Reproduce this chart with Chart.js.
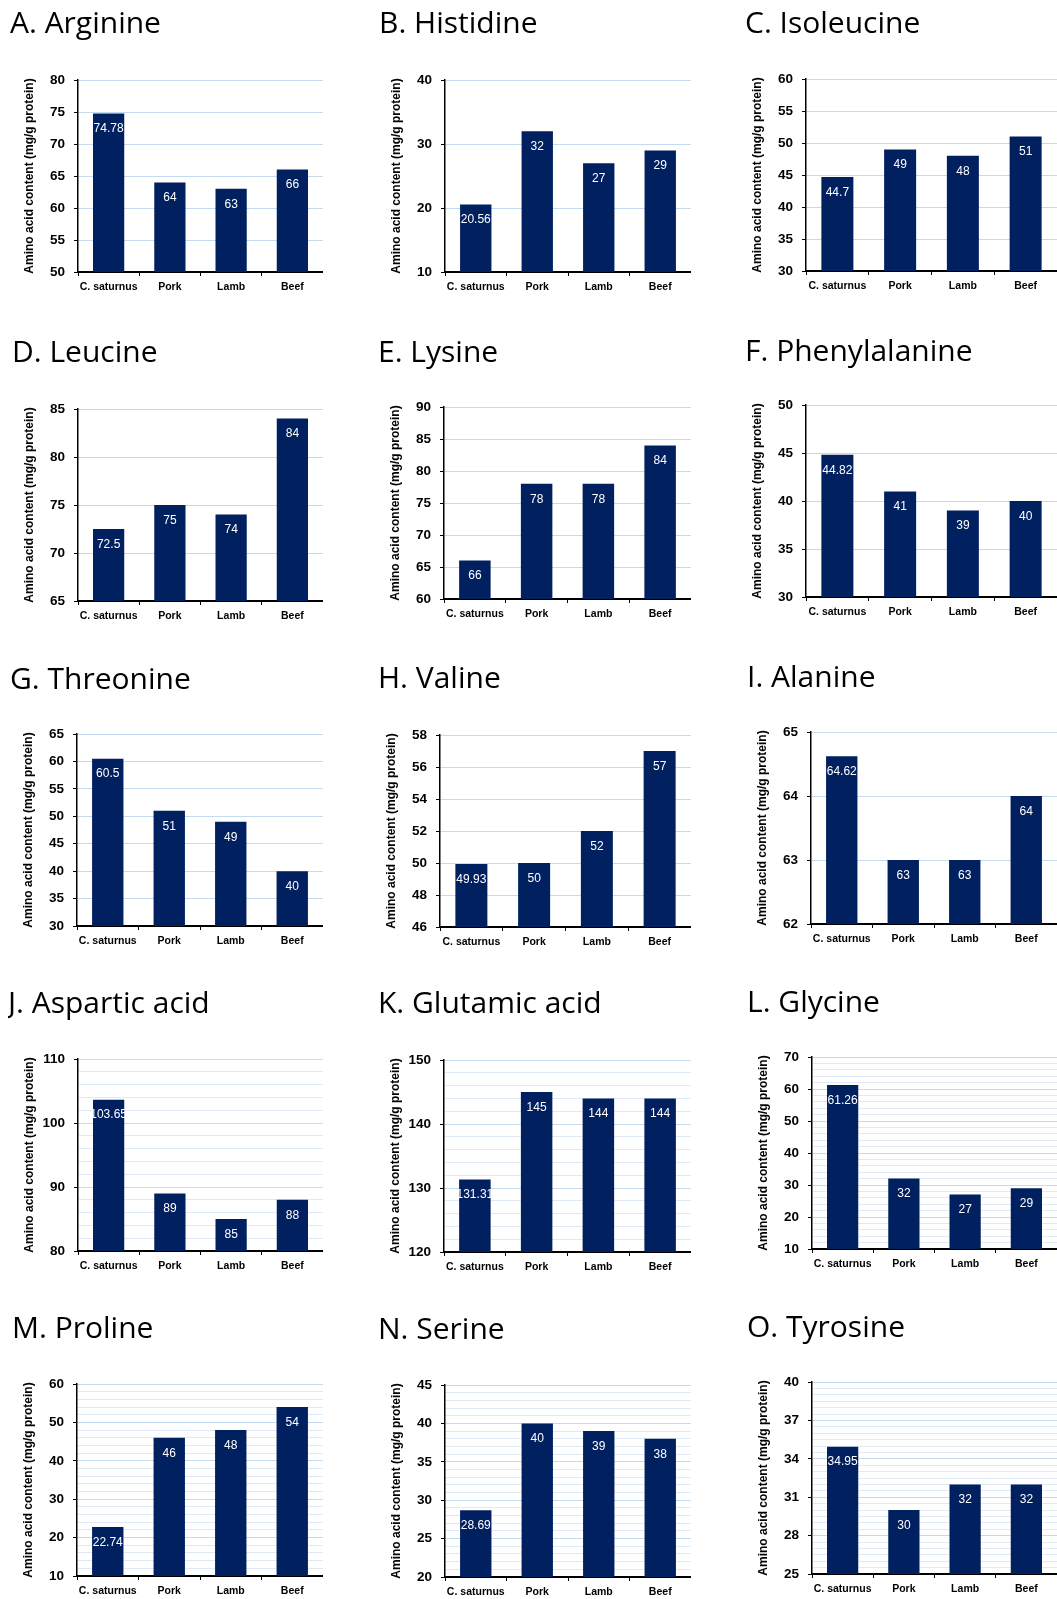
<!DOCTYPE html>
<html><head><meta charset="utf-8">
<script src="https://cdn.jsdelivr.net/npm/chart.js@4.4.1/dist/chart.umd.min.js"></script>
<style>
html,body{margin:0;padding:0;background:#fff;}
body{width:1057px;height:1599px;position:relative;overflow:hidden;}
canvas{position:absolute;}
</style></head><body>
<script>
// ---------- DATA ----------
const categories = ['C. saturnus', 'Pork', 'Lamb', 'Beef'];
const panelTitles = ['A. Arginine','B. Histidine','C. Isoleucine','D. Leucine','E. Lysine','F. Phenylalanine',
  'G. Threonine','H. Valine','I. Alanine','J. Aspartic acid','K. Glutamic acid','L. Glycine',
  'M. Proline','N. Serine','O. Tyrosine'];
const yAxisTitle = 'Amino acid content (mg/g protein)';

const arginine      = [74.78, 64, 63, 66];
const histidine     = [20.56, 32, 27, 29];
const isoleucine    = [44.7, 49, 48, 51];
const leucine       = [72.5, 75, 74, 84];
const lysine        = [66, 78, 78, 84];
const phenylalanine = [44.82, 41, 39, 40];
const threonine     = [60.5, 51, 49, 40];
const valine        = [49.93, 50, 52, 57];
const alanine       = [64.62, 63, 63, 64];
const asparticAcid  = [103.65, 89, 85, 88];
const glutamicAcid  = [131.31, 145, 144, 144];
const glycine       = [61.26, 32, 27, 29];
const proline       = [22.74, 46, 48, 54];
const serine        = [28.69, 40, 39, 38];
const tyrosine      = [34.95, 30, 32, 32];

const seriesValues = [arginine, histidine, isoleucine, leucine, lysine, phenylalanine,
  threonine, valine, alanine, asparticAcid, glutamicAcid, glycine, proline, serine, tyrosine];

// y-axis ranges / tick steps (labelled step and gridline step)
const yMin       = [50, 10, 30, 65, 60, 30, 30, 46, 62, 80, 120, 10, 10, 20, 25];
const yMax       = [80, 40, 60, 85, 90, 50, 65, 58, 65, 110, 150, 70, 60, 45, 40];
const yLabelStep = [5, 10, 5, 5, 5, 5, 5, 2, 1, 10, 10, 10, 10, 5, 3];
const yGridStep  = [5, 10, 5, 5, 5, 5, 5, 2, 1, 2, 2, 2, 2, 1, 0.5];

// ---------- LAYOUT (page pixels) ----------
const axisX     = [78, 445, 806,  78, 444, 806,  77, 440, 811,  78, 444, 812,  77, 445, 812];
const plotRight = [322, 690, 1056, 322, 690, 1056, 322, 690, 1056, 322, 690, 1056, 322, 690, 1056];
const plotTop   = [80, 80, 79,  409, 407, 405,  734, 735, 732,  1059, 1060, 1057,  1384, 1385, 1382];
const plotHeight = 192;
const titleX    = [10, 379, 745,  12, 378, 745,  10, 378, 747,  8, 378, 747,  12, 378, 747];
const titleBase = [33, 33, 33,  362, 362, 361,  689, 688, 687,  1013, 1013, 1012,  1338, 1339, 1337];

// ---------- STYLE ----------
const AXIS_FONT = 'Liberation Sans';
const LABEL_FONT = 'Liberation Sans';
const TITLE_FONT = 'Open Sans';
const TITLE_SIZE = 30;
const BAR_COLOR = '#002060';
const GRID_MAJOR = '#c3daf1';
const GRID_MINOR = '#e0eaf6';
const X_AXIS_H = 30;

const valueLabels = {
  id: 'valueLabels',
  afterDatasetsDraw(chart) {
    const ctx = chart.ctx;
    const meta = chart.getDatasetMeta(0);
    const data = chart.data.datasets[0].data;
    ctx.save();
    ctx.fillStyle = '#ffffff';
    ctx.font = '12px "' + LABEL_FONT + '"';
    ctx.textAlign = 'center';
    ctx.textBaseline = 'middle';
    meta.data.forEach((bar, i) => {
      ctx.fillText(String(data[i]), bar.x, bar.y + 15.5);
    });
    ctx.restore();
  }
};

function isMajor(v, i) {
  const k = (v - yMin[i]) / yLabelStep[i];
  return Math.abs(k - Math.round(k)) < 1e-6;
}

for (let i = 0; i < 15; i++) {
  const left = titleX[i];
  const middle = titleBase[i] - 0.30 * TITLE_SIZE;
  const top = Math.round(middle - 0.6 * TITLE_SIZE);
  const padBottom = plotTop[i] - top - 1.2 * TITLE_SIZE;
  const width = plotRight[i] - left + 1;
  const height = plotTop[i] + plotHeight - top + X_AXIS_H;
  const yW = axisX[i] - left;
  const yTitlePad = (axisX[i] - 48) - left - 0.6 * 12;

  const c = document.createElement('canvas');
  c.width = width; c.height = height;
  c.style.left = left + 'px'; c.style.top = top + 'px';
  c.style.width = width + 'px'; c.style.height = height + 'px';
  document.body.appendChild(c);

  const tickVals = [];
  const n = Math.round((yMax[i] - yMin[i]) / yGridStep[i]);
  for (let k = 0; k <= n; k++) tickVals.push(Math.round((yMin[i] + k * yGridStep[i]) * 1000) / 1000);

  new Chart(c, {
    type: 'bar',
    data: {
      labels: categories,
      datasets: [{
        data: seriesValues[i],
        backgroundColor: BAR_COLOR,
        borderWidth: 0,
        categoryPercentage: 1,
        barPercentage: 0.51
      }]
    },
    options: {
      responsive: false,
      devicePixelRatio: 1,
      animation: false,
      layout: { padding: 0 },
      plugins: {
        legend: { display: false },
        tooltip: { enabled: false },
        title: {
          display: true,
          text: panelTitles[i],
          align: 'start',
          color: '#000',
          font: { family: TITLE_FONT, size: TITLE_SIZE, weight: 'normal', lineHeight: 1.2 },
          padding: { top: 0, bottom: padBottom }
        }
      },
      scales: {
        x: {
          offset: true,
          grid: { display: true, drawOnChartArea: false, drawTicks: true, tickLength: 4,
                  color: '#000', tickColor: '#000', offset: true },
          border: { display: true, color: '#000', width: 2 },
          ticks: { color: '#000', font: { family: AXIS_FONT, size: 10.5, weight: 'bold' },
                   padding: 5, maxRotation: 0, autoSkip: false },
          afterFit: s => { s.height = X_AXIS_H; }
        },
        y: {
          min: yMin[i],
          max: yMax[i],
          afterBuildTicks: s => { s.ticks = tickVals.map(v => ({ value: v })); },
          grid: {
            color: ctx => isMajor(ctx.tick.value, i) ? GRID_MAJOR : GRID_MINOR,
            tickColor: ctx => isMajor(ctx.tick.value, i) ? '#000' : 'rgba(0,0,0,0)',
            tickLength: 4,
            lineWidth: 1
          },
          border: { display: true, color: '#000', width: 1.5 },
          ticks: {
            autoSkip: false,
            color: '#000',
            padding: 9,
            font: { family: AXIS_FONT, size: 13.5, weight: 'bold' },
            callback: v => isMajor(v, i) ? String(v) : ''
          },
          title: {
            display: true,
            text: yAxisTitle,
            color: '#000',
            font: { family: AXIS_FONT, size: 12, weight: 'bold', lineHeight: 1.2 },
            padding: { top: yTitlePad, bottom: 0 }
          },
          afterFit: s => { s.width = yW; }
        }
      }
    },
    plugins: [valueLabels]
  });
}
</script>
</body></html>
